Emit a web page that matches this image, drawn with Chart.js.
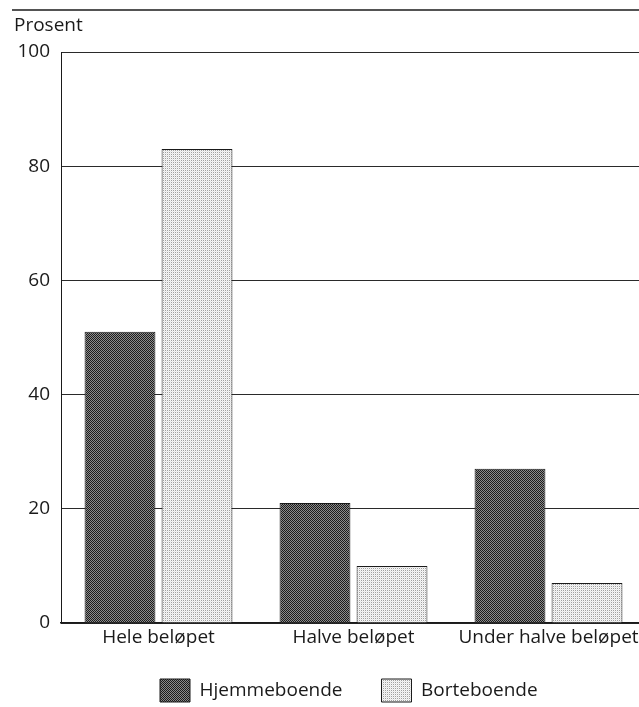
<!DOCTYPE html>
<html>
<head>
<meta charset="utf-8">
<script src="https://cdn.jsdelivr.net/npm/chart.js"></script>
<style>
  html, body { margin: 0; padding: 0; background: #fff; }
  #wrap { width: 639px; height: 707px; overflow: hidden; }
</style>
</head>
<body>
<div id="wrap"><canvas id="chart" width="648" height="722"></canvas></div>
<script>
// data
const categories = ['Hele beløpet', 'Halve beløpet', 'Under halve beløpet'];
const hjemmeboende = [51, 21, 27];
const borteboende = [83, 10, 7];
const seriesNames = ['Hjemmeboende', 'Borteboende'];
const yMin = 0;
const yMax = 100;
const yStep = 20;
const yTitle = 'Prosent';

// raster-mønster som i trykt grafikk
function makePattern(cells) {
    const size = Math.sqrt(cells.length);
    const c = document.createElement('canvas');
    c.width = size;
    c.height = size;
    const g = c.getContext('2d');
    cells.forEach((col, i) => {
        g.fillStyle = col;
        g.fillRect(i % size, Math.floor(i / size), 1, 1);
    });
    return g.createPattern(c, 'repeat');
}

const darkFill = makePattern(['#1c1c1c', '#8c8c8c', '#8c8c8c', '#1c1c1c']);
const lightFill = makePattern(['#f6f6f6', '#a0a0a0', '#e6e6e6', '#f6f6f6']);

const ink = '#1a1a1a';
Chart.defaults.font.family = "'Open Sans', sans-serif";
Chart.defaults.font.size = 19;
Chart.defaults.color = ink;

// topplinje, aksetittel og plassering av legenden
const decorations = {
    id: 'decorations',
    afterLayout(chart) {
        const lg = chart.legend;
        const pad = lg.options.labels.padding;
        const startX = (lg.left + pad + lg.right - lg.lineWidths[0]) / 2;
        const shiftX = 160 - startX;
        lg.left += shiftX;
        lg.right += shiftX;
        const shiftY = (679 - pad) - lg.top;
        lg.top += shiftY;
        lg.bottom += shiftY;
    },
    afterDraw(chart) {
        const ctx = chart.ctx;
        ctx.save();
        ctx.strokeStyle = ink;
        ctx.lineWidth = 1.5;
        ctx.beginPath();
        ctx.moveTo(12, 10);
        ctx.lineTo(chart.width, 10);
        ctx.stroke();
        ctx.fillStyle = ink;
        ctx.font = "19px 'Open Sans', sans-serif";
        ctx.textBaseline = 'alphabetic';
        ctx.textAlign = 'left';
        ctx.fillText(yTitle, 14, 31);
        ctx.restore();
    }
};

new Chart(document.getElementById('chart'), {
    type: 'bar',
    data: {
        labels: categories,
        datasets: [
            {
                label: seriesNames[0],
                data: hjemmeboende,
                backgroundColor: darkFill,
                borderColor: ink,
                borderWidth: 1
            },
            {
                label: seriesNames[1],
                data: borteboende,
                backgroundColor: lightFill,
                borderColor: ink,
                borderWidth: 1
            }
        ]
    },
    options: {
        responsive: false,
        animation: false,
        layout: { padding: { top: 52, left: 0, right: 2, bottom: 0 } },
        datasets: {
            bar: { categoryPercentage: 0.79, barPercentage: 0.92 }
        },
        scales: {
            x: {
                grid: { display: false, drawTicks: false },
                border: { display: true, color: ink, width: 1.5 },
                ticks: { padding: 3, color: ink, maxRotation: 0 },
                afterFit(scale) { scale.height = 27; }
            },
            y: {
                min: yMin,
                max: yMax,
                grid: { color: '#2a2a2a', lineWidth: 1, drawTicks: false },
                border: { display: true, color: ink, width: 1 },
                ticks: { stepSize: yStep, padding: 11, color: ink },
                afterFit(scale) { scale.width = 61; }
            }
        },
        plugins: {
            legend: {
                position: 'bottom',
                labels: {
                    boxWidth: 30,
                    boxHeight: 23,
                    padding: 39,
                    color: ink,
                    font: { size: 19 }
                }
            },
            tooltip: { enabled: false }
        }
    },
    plugins: [decorations]
});
</script>
</body>
</html>
